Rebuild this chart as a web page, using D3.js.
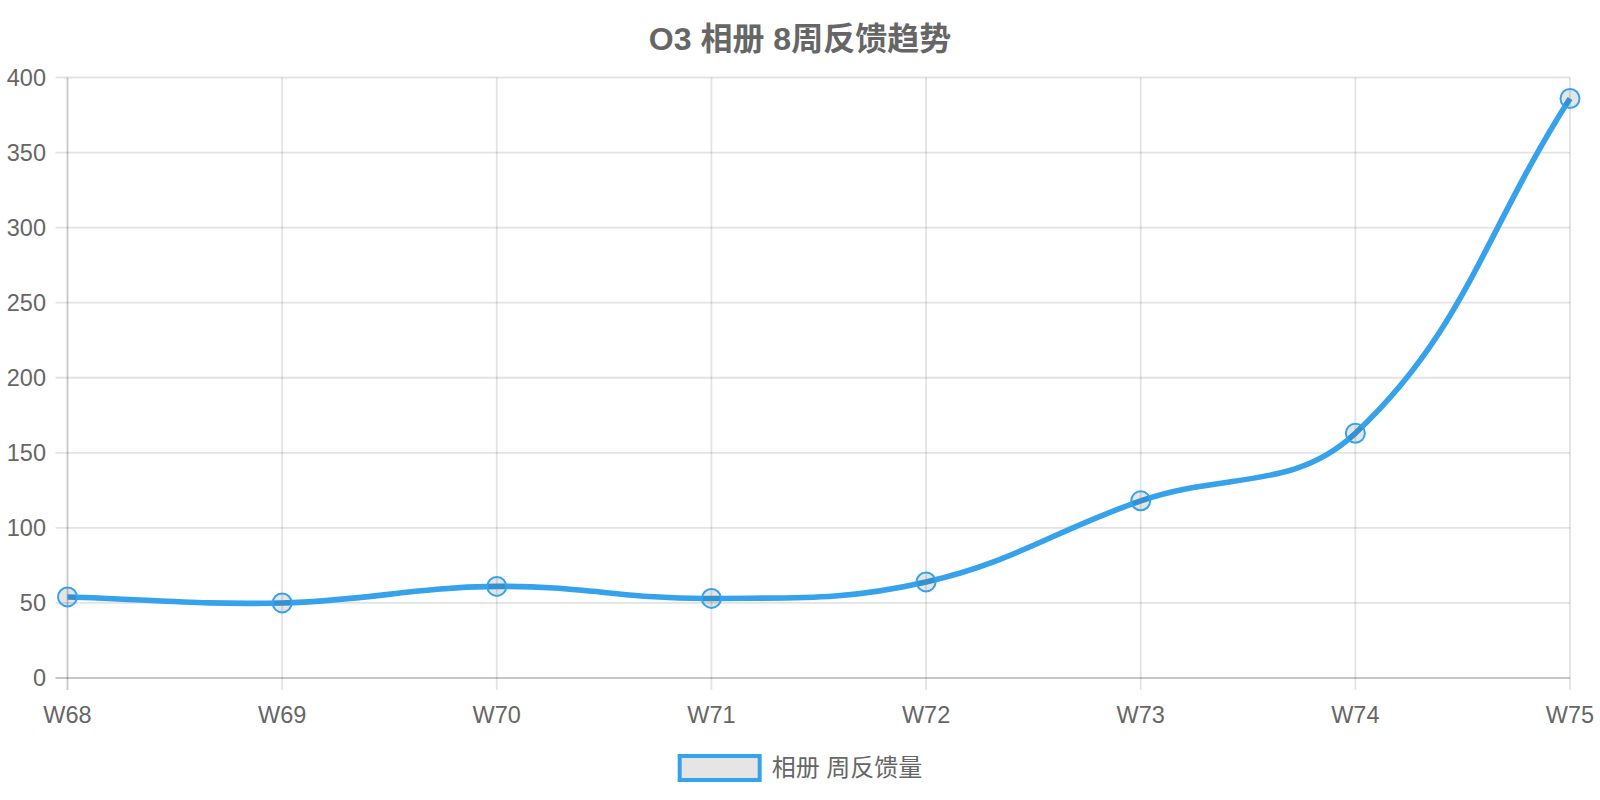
<!DOCTYPE html>
<html>
<head>
<meta charset="utf-8">
<script src="https://cdn.jsdelivr.net/npm/d3@7/dist/d3.min.js"></script>
<style>
  html, body { margin: 0; padding: 0; background: #fff; }
  svg { display: block; }
  text { font-family: "Liberation Sans", Arial, "Noto Sans CJK SC", sans-serif; }
</style>
</head>
<body>
<svg id="chart" width="1600" height="800"></svg>
<script>
const categories = ["W68", "W69", "W70", "W71", "W72", "W73", "W74", "W75"];
const seriesValues = [54, 50, 61, 53, 64, 118, 163, 386];
const yTicks = [0, 50, 100, 150, 200, 250, 300, 350, 400];
const titleText = "O3 相册 8周反馈趋势";
const seriesLabel = "相册 周反馈量";

const W = 1600, H = 800;
const area = { left: 67.5, right: 1570, top: 77.5, bottom: 678 };
const centerX = 800;
const lineColor = "rgb(54,162,235)";
const textColor = "#666";
const gridColor = "rgba(0,0,0,0.11)";
const axisColor = "rgba(0,0,0,0.22)";

const svg = d3.select("#chart");
svg.append("rect").attr("width", W).attr("height", H).attr("fill", "#fff");

const x = d3.scalePoint().domain(categories).range([area.left, area.right]);
const y = d3.scaleLinear().domain([0, 400]).range([area.bottom, area.top]);

// Grid lines
const grid = svg.append("g");
yTicks.forEach(t => {
  if (t === 0) return;
  grid.append("line")
    .attr("x1", area.left - 12).attr("x2", area.right)
    .attr("y1", y(t)).attr("y2", y(t))
    .attr("stroke", gridColor).attr("stroke-width", 1.8);
});
categories.forEach((c, i) => {
  if (i === 0) return;
  grid.append("line")
    .attr("x1", x(c)).attr("x2", x(c))
    .attr("y1", area.top).attr("y2", area.bottom + 12)
    .attr("stroke", gridColor).attr("stroke-width", 1.8);
});
// axis lines
svg.append("line").attr("x1", area.left).attr("x2", area.left)
  .attr("y1", area.top).attr("y2", area.bottom + 12)
  .attr("stroke", axisColor).attr("stroke-width", 1.8);
svg.append("line").attr("x1", area.left - 12).attr("x2", area.right)
  .attr("y1", area.bottom).attr("y2", area.bottom)
  .attr("stroke", axisColor).attr("stroke-width", 1.8);

// Y tick labels
svg.append("g").selectAll("text").data(yTicks).join("text")
  .attr("x", 46).attr("y", d => y(d))
  .attr("dy", "0.35em").attr("text-anchor", "end")
  .attr("fill", textColor).attr("font-size", 23.5)
  .text(d => d);

// X tick labels
svg.append("g").selectAll("text").data(categories).join("text")
  .attr("x", d => x(d)).attr("y", 715)
  .attr("dy", "0.35em").attr("text-anchor", "middle")
  .attr("fill", textColor).attr("font-size", 23.5)
  .text(d => d);

// Spline line (Chart.js-like tension 0.4)
const pts = categories.map((c, i) => ({ x: x(c), y: y(seriesValues[i]) }));
const tension = 0.4;
const cps = pts.map((p, i) => {
  const prev = pts[i - 1] || p, next = pts[i + 1] || p;
  const d01 = Math.hypot(p.x - prev.x, p.y - prev.y);
  const d12 = Math.hypot(next.x - p.x, next.y - p.y);
  let s01 = d01 / (d01 + d12), s12 = d12 / (d01 + d12);
  if (isNaN(s01)) s01 = 0;
  if (isNaN(s12)) s12 = 0;
  const fa = tension * s01, fb = tension * s12;
  const clampY = v => Math.max(area.top, Math.min(area.bottom, v));
  return {
    prev: { x: p.x - fa * (next.x - prev.x), y: clampY(p.y - fa * (next.y - prev.y)) },
    next: { x: p.x + fb * (next.x - prev.x), y: clampY(p.y + fb * (next.y - prev.y)) }
  };
});
const path = d3.path();
path.moveTo(pts[0].x, pts[0].y);
for (let i = 1; i < pts.length; i++) {
  path.bezierCurveTo(cps[i - 1].next.x, cps[i - 1].next.y, cps[i].prev.x, cps[i].prev.y, pts[i].x, pts[i].y);
}
svg.append("path").attr("d", path.toString())
  .attr("fill", "none").attr("stroke", lineColor).attr("stroke-width", 5.6);

// Points
svg.append("g").selectAll("circle").data(pts).join("circle")
  .attr("cx", d => d.x).attr("cy", d => d.y).attr("r", 9.5)
  .attr("fill", "rgba(0,0,0,0.1)").attr("stroke", lineColor).attr("stroke-width", 2);

// Title
svg.append("text").attr("x", centerX).attr("y", 39).attr("dy", "0.35em")
  .attr("text-anchor", "middle").attr("font-weight", "bold")
  .attr("font-size", 32).attr("fill", textColor).text(titleText);

// Legend
const lg = svg.append("g");
const legendText = lg.append("text").attr("y", 768).attr("dy", "0.35em")
  .attr("font-size", 24).attr("fill", textColor).text(seriesLabel);
const tw = legendText.node().getComputedTextLength();
const boxW = 84, boxH = 28, gap = 10;
const totalW = boxW + gap + tw;
const lx = centerX - totalW / 2;
lg.append("rect").attr("x", lx + 2).attr("y", 756).attr("width", boxW - 4).attr("height", boxH - 4)
  .attr("fill", "rgba(0,0,0,0.1)").attr("stroke", lineColor).attr("stroke-width", 4);
legendText.attr("x", lx + boxW + gap);
</script>
</body>
</html>
